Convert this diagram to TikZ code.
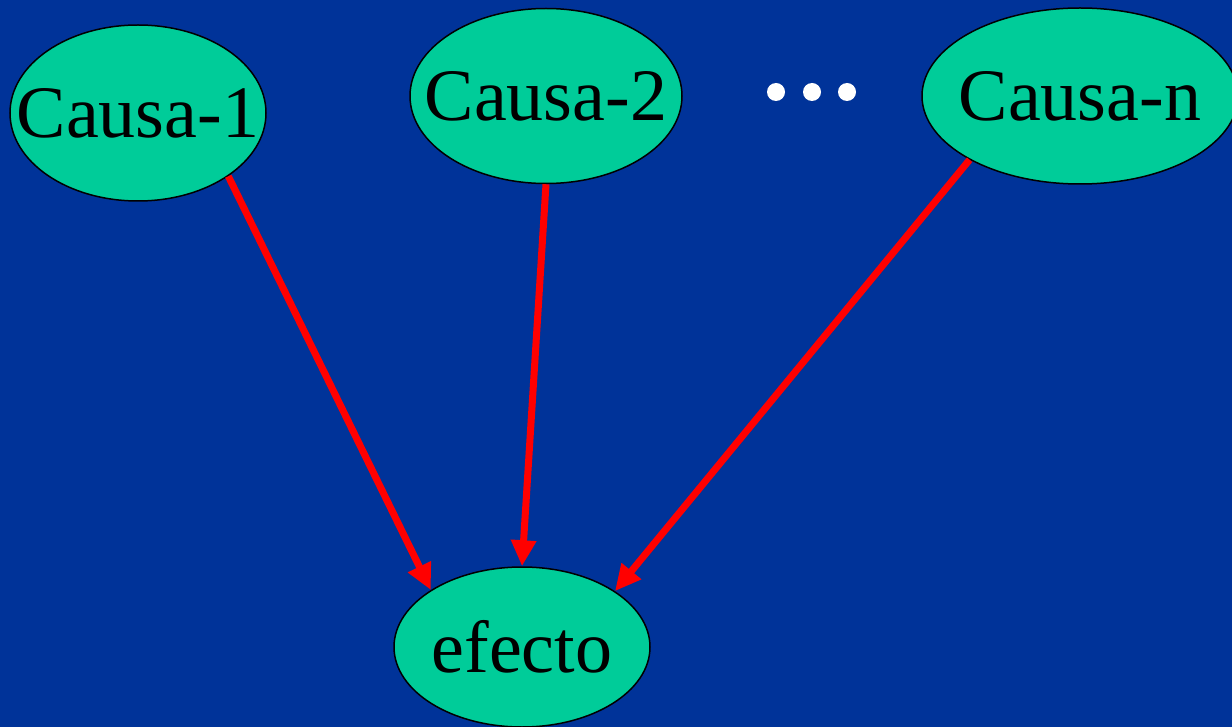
\documentclass[tikz,border=0pt]{standalone}
\usepackage{fontspec}
\setmainfont{Liberation Serif}
\usetikzlibrary{shapes.geometric,arrows.meta}
\definecolor{bgblue}{RGB}{0,51,153}
\definecolor{nodegreen}{RGB}{0,204,153}
\definecolor{arrowred}{RGB}{255,0,0}
\newcommand{\ctext}[1]{\makebox[0pt][c]{\raisebox{-3pt}{#1}}}
\tikzset{
  causebox/.style={ellipse, draw=black, line width=1.5pt, fill=nodegreen, inner sep=0pt,
    font=\fontsize{74}{88}\selectfont, text=black},
  causearrow/.style={draw=arrowred, line width=7pt, -{Triangle[length=26pt,width=24pt]}},
  dotmark/.style={circle, fill=white, inner sep=0pt, minimum size=18pt}
}
\begin{document}
\begin{tikzpicture}[x=1pt,y=-1pt]
\fill[bgblue] (0,0) rectangle (1232,727);
\useasboundingbox (0,0) rectangle (1232,727);
\node[causebox, minimum width=256pt, minimum height=176pt] (c1) at (138,113) {\ctext{Causa-1}};
\node[causebox, minimum width=272pt, minimum height=175pt] (c2) at (546,96) {\ctext{Causa-2}};
\node[causebox, minimum width=316pt, minimum height=176pt] (cn) at (1080,96) {\ctext{Causa-n}};
\node[causebox, minimum width=256pt, minimum height=160pt] (ef) at (522,647) {\ctext{efecto}};
\node[dotmark] (d1) at (776,92) {};
\node[dotmark] (d2) at (812,92) {};
\node[dotmark] (d3) at (847,92) {};
\draw[causearrow] (c1.-35) -- (ef.148);
\draw[causearrow] (c2.-90) -- (ef.90);
\draw[causearrow] (cn.210.5) -- (ef.31.5);
\end{tikzpicture}
\end{document}
